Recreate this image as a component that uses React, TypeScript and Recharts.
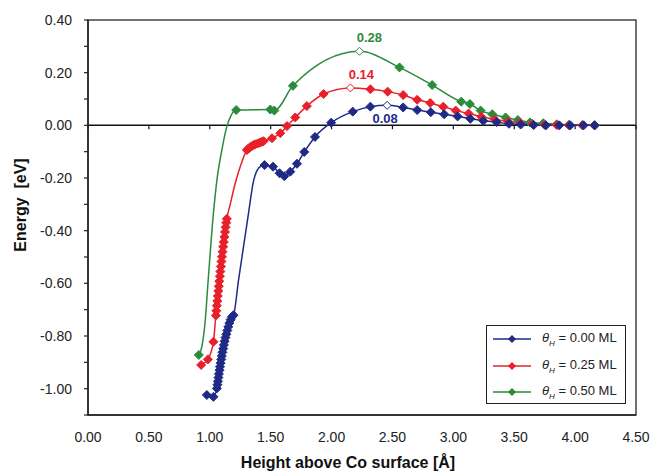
import React from "react";
import {
  ComposedChart, Line, XAxis, YAxis, ReferenceLine, ReferenceArea, LabelList,
} from "recharts";

const BLUE = "#1f2a87";
const RED = "#e8202a";
const GREEN = "#2a8b3c";
const FONT = '"Liberation Sans", Arial, sans-serif';

const xTicks = [0, 0.5, 1, 1.5, 2, 2.5, 3, 3.5, 4, 4.5];
const yTicks = [0.4, 0.3, 0.2, 0.1, 0, -0.1, -0.2, -0.3, -0.4, -0.5, -0.6, -0.7, -0.8, -0.9, -1.0, -1.1];

// theta_H = 0.50 ML
const greenMarkers = [
  [0.91, -0.872], [1.217, 0.058], [1.497, 0.06], [1.53, 0.056], [1.683, 0.15],
  [2.558, 0.22], [2.826, 0.153], [3.065, 0.09], [3.136, 0.081], [3.224, 0.056],
  [3.32, 0.042], [3.429, 0.03], [3.53, 0.02], [3.629, 0.011], [3.739, 0.008],
  [3.849, 0.004], [3.95, 0.002], [4.06, 0.001], [4.16, 0],
];
// points read along the smoothed line where there are no markers
const greenCurve = [
  [0.935, -0.84], [0.962, -0.745], [0.985, -0.6], [1.03, -0.334], [1.058, -0.21],
  [1.099, -0.094], [1.14, -0.005], [1.175, 0.038],
];
const greenPeak = [[2.229, 0.281]];

// theta_H = 0.25 ML
const redMarkers = [
  [0.929, -0.91], [0.984, -0.889], [1.03, -0.822],
  [1.05, -0.722], [1.054, -0.704], [1.058, -0.685], [1.062, -0.667], [1.066, -0.648],
  [1.07, -0.629], [1.074, -0.611], [1.078, -0.592], [1.083, -0.573], [1.087, -0.555],
  [1.091, -0.536], [1.096, -0.517], [1.1, -0.499], [1.105, -0.48], [1.11, -0.461],
  [1.115, -0.443], [1.12, -0.424], [1.125, -0.405], [1.13, -0.387], [1.135, -0.37],
  [1.14, -0.355],
  [1.305, -0.094], [1.318, -0.088], [1.33, -0.083], [1.345, -0.079], [1.36, -0.075],
  [1.375, -0.072], [1.392, -0.069], [1.408, -0.066], [1.425, -0.063], [1.442, -0.06],
  [1.511, -0.049], [1.579, -0.03], [1.634, -0.003], [1.702, 0.03], [1.797, 0.073],
  [1.935, 0.119], [2.319, 0.137], [2.461, 0.128], [2.588, 0.115], [2.703, 0.097],
  [2.81, 0.085], [2.917, 0.071], [3.02, 0.056], [3.125, 0.045], [3.23, 0.033],
  [3.34, 0.022], [3.45, 0.015], [3.55, 0.009], [3.65, 0.005], [3.75, 0.002],
  [3.85, 0.001], [3.95, 0], [4.06, 0], [4.16, 0],
];
const redCurve = [[1.168, -0.3], [1.209, -0.22], [1.264, -0.138]];
const redPeak = [[2.155, 0.142]];

// theta_H = 0.00 ML
const blueMarkers = [
  [0.976, -1.024], [1.03, -1.031],
  [1.058, -0.999], [1.063, -0.985], [1.067, -0.972], [1.071, -0.958], [1.075, -0.944],
  [1.08, -0.93], [1.084, -0.917], [1.089, -0.903], [1.094, -0.889], [1.099, -0.876],
  [1.104, -0.862], [1.11, -0.848], [1.116, -0.834], [1.122, -0.82], [1.129, -0.806],
  [1.136, -0.793], [1.144, -0.779], [1.152, -0.765], [1.161, -0.751], [1.171, -0.738],
  [1.182, -0.727], [1.195, -0.721],
  [1.45, -0.151], [1.519, -0.157], [1.573, -0.182], [1.612, -0.193], [1.661, -0.176],
  [1.716, -0.146], [1.776, -0.101], [1.864, -0.044], [1.997, 0.01], [2.174, 0.052],
  [2.319, 0.071], [2.588, 0.068], [2.703, 0.058], [2.815, 0.05], [2.925, 0.042],
  [3.035, 0.034], [3.14, 0.025], [3.246, 0.017], [3.355, 0.012], [3.457, 0.006],
  [3.553, 0.003], [3.66, 0.001], [3.76, 0], [3.87, 0], [3.96, 0], [4.07, 0], [4.16, 0],
];
const blueCurve = [[1.236, -0.588], [1.277, -0.461], [1.318, -0.334], [1.36, -0.21], [1.414, -0.157]];
const bluePeak = [[2.456, 0.076]];

type Pt = { x: number; y: number };
const toPts = (a: number[][]): Pt[] => a.map(([x, y]) => ({ x, y }));
const lineOf = (...parts: number[][][]): Pt[] =>
  parts.flatMap(toPts).sort((a, b) => a.x - b.x);

const series = [
  { name: "0.50", color: GREEN, markers: greenMarkers, curve: greenCurve, peak: greenPeak, dx: 10, dy: -9 },
  { name: "0.25", color: RED, markers: redMarkers, curve: redCurve, peak: redPeak, dx: 11, dy: -9 },
  { name: "0.00", color: BLUE, markers: blueMarkers, curve: blueCurve, peak: bluePeak, dx: -2, dy: 18 },
];

const diamond = (stroke: string, fill: string, r: number) => (props: any) => {
  const { cx, cy, index } = props;
  if (cx == null || cy == null) return <g key={index} />;
  return (
    <polygon
      key={index}
      points={`${cx},${cy - r} ${cx + r},${cy} ${cx},${cy + r} ${cx - r},${cy}`}
      fill={fill}
      stroke={stroke}
      strokeWidth={1}
    />
  );
};

const yFmt = (v: number) => (Math.round(v * 10) % 2 === 0 ? v.toFixed(2) : "");

function LegendBox() {
  const rows = [
    { label: "0.00", color: BLUE },
    { label: "0.25", color: RED },
    { label: "0.50", color: GREEN },
  ];
  return (
    <div
      style={{
        position: "absolute", left: 486, top: 325, width: 138, height: 77,
        border: "1px solid #222", background: "#fff", fontFamily: FONT, fontSize: 13,
      }}
    >
      {rows.map((r, i) => (
        <div key={r.label} style={{ position: "absolute", left: 0, top: 4 + i * 26.5, height: 18, display: "flex", alignItems: "center" }}>
          <svg width={50} height={18}>
            <line x1={6} y1={9} x2={44} y2={9} stroke={r.color} strokeWidth={1.5} />
            <polygon points="25,5 29,9 25,13 21,9" fill={r.color} />
          </svg>
          <span style={{ marginLeft: 5, color: "#222", whiteSpace: "pre" }}>
            <i>θ</i><sub style={{ fontSize: 8, fontStyle: "italic" }}>H</sub> = {r.label} ML
          </span>
        </div>
      ))}
    </div>
  );
}

export default function App() {
  return (
    <div style={{ position: "absolute", left: 0, top: 0, width: 653, height: 475, background: "#fff" }}>
      <ComposedChart width={653} height={475} margin={{ top: 20, right: 17, bottom: 10, left: 28 }}>
        <XAxis
          type="number" dataKey="x" domain={[0, 4.5]} ticks={xTicks} interval={0}
          tickFormatter={(v: number) => v.toFixed(2)}
          tickLine={false} tickSize={0} tickMargin={17} height={50}
          axisLine={{ stroke: "#222", strokeWidth: 1.5 }}
          tick={{ fontSize: 14, fill: "#222", fontFamily: FONT }}
          allowDataOverflow
        />
        <YAxis
          type="number" dataKey="y" domain={[-1.1, 0.4]} ticks={yTicks} interval={0}
          tickFormatter={yFmt} tickSize={4} tickMargin={12} width={60}
          axisLine={{ stroke: "#222", strokeWidth: 1.5 }}
          tickLine={{ stroke: "#222", strokeWidth: 1.2 }}
          tick={{ fontSize: 14, fill: "#222", fontFamily: FONT }}
          allowDataOverflow
        />
        <ReferenceArea x1={0} x2={4.5} y1={-1.1} y2={0.4} fillOpacity={0} stroke="#444" strokeWidth={1.5} />
        <ReferenceLine y={0} stroke="#111" strokeWidth={1.5} />
        {xTicks.map((t) => (
          <ReferenceLine key={t} segment={[{ x: t, y: 0 }, { x: t, y: -0.015 }]} stroke="#111" strokeWidth={1.2} />
        ))}
        {series.flatMap((s) => [
          <Line
            key={s.name + "-line"} data={lineOf(s.markers, s.curve, s.peak)} dataKey="y"
            type="monotone" stroke={s.color} strokeWidth={1.5} dot={false}
            isAnimationActive={false}
          />,
          <Line
            key={s.name + "-dots"} data={toPts(s.markers)} dataKey="y"
            stroke="none" strokeWidth={0} dot={diamond(s.color, s.color, 4.5)} activeDot={false}
            isAnimationActive={false}
          />,
          <Line
            key={s.name + "-peak"} data={toPts(s.peak)} dataKey="y"
            stroke="none" strokeWidth={0} dot={diamond(s.color, "#fff", 4)} activeDot={false}
            isAnimationActive={false}
          >
            <LabelList
              dataKey="y"
              content={(p: any) => (
                <text
                  x={Number(p.x) + s.dx} y={Number(p.y) + s.dy} textAnchor="middle"
                  fill={s.color} fontSize={13} fontWeight="bold" fontFamily={FONT}
                >
                  {Number(p.value).toFixed(2)}
                </text>
              )}
            />
          </Line>,
        ])}
      </ComposedChart>
      <div
        style={{
          position: "absolute", left: 21, top: 205, transform: "translate(-50%, -50%) rotate(-90deg)",
          fontFamily: FONT, fontWeight: "bold", fontSize: 16, color: "#111", whiteSpace: "pre",
        }}
      >
        Energy  [eV]
      </div>
      <div
        style={{
          position: "absolute", left: 348, top: 463, transform: "translate(-50%, -50%)",
          fontFamily: FONT, fontWeight: "bold", fontSize: 16, color: "#111", whiteSpace: "pre",
        }}
      >
        Height above Co surface [Å]
      </div>
      <LegendBox />
    </div>
  );
}
